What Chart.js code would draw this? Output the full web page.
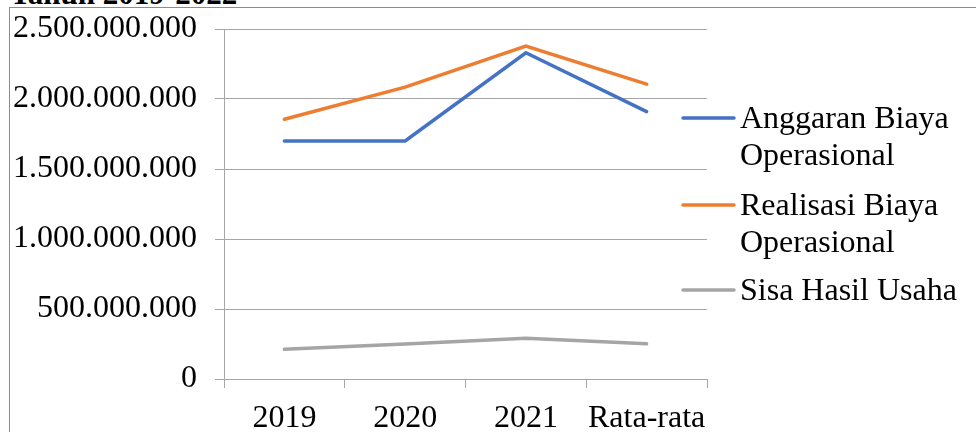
<!DOCTYPE html>
<html>
<head>
<meta charset="utf-8">
<script src="https://cdn.jsdelivr.net/npm/chart.js@4.4.0/dist/chart.umd.min.js"></script>
<style>
	html, body { margin: 0; padding: 0; background: #fff; }
	#wrap { position: relative; width: 976px; height: 432px; overflow: hidden; }
	#title {
		position: absolute; left: 10px; top: -22px;
		font: bold 31px "Liberation Serif", "Times New Roman", serif;
		line-height: 31px; color: #000; white-space: nowrap;
	}
	#frame {
		position: absolute; left: 9px; top: 7px; right: -2px; bottom: -2px;
		border-top: 1px solid #8c8c8c; border-left: 1px solid #8c8c8c;
	}
	#costChart { position: absolute; left: 0; top: 0; }
</style>
</head>
<body>
<div id="wrap">
	<div id="title">Tahun 2019-2022</div>
	<div id="frame"></div>
	<canvas id="costChart" width="976" height="432"></canvas>
</div>
<script>
const categories = ['2019', '2020', '2021', 'Rata-rata'];
const anggaran = [1700000000, 1700000000, 2330000000, 1910000000];
const realisasi = [1855000000, 2085000000, 2378000000, 2106000000];
const shu = [212000000, 250000000, 291000000, 251000000];
const seriesNames = [['Anggaran Biaya', 'Operasional'], ['Realisasi Biaya', 'Operasional'], ['Sisa Hasil Usaha']];
const seriesColors = ['#4472C4', '#ED7D31', '#A5A5A5'];

const FONT = '"Liberation Serif", "Times New Roman", serif';
const FONT_SIZE = 32;
const LINE_WIDTH = 3.5;

function formatRupiah(v) {
	return String(Math.round(v)).replace(/\B(?=(\d{3})+(?!\d))/g, '.');
}

// legend on the right, with wrapped labels
const sideLegend = {
	id: 'sideLegend',
	afterDraw(chart) {
		const ctx = chart.ctx;
		const rows = [118, 205, 290];
		ctx.save();
		ctx.font = FONT_SIZE + 'px ' + FONT;
		ctx.textBaseline = 'middle';
		ctx.textAlign = 'left';
		chart.data.datasets.forEach((ds, i) => {
			const y = rows[i];
			ctx.strokeStyle = ds.borderColor;
			ctx.lineWidth = LINE_WIDTH;
			ctx.lineCap = 'round';
			ctx.beginPath();
			ctx.moveTo(683, y);
			ctx.lineTo(734, y);
			ctx.stroke();
			ctx.fillStyle = '#000';
			seriesNames[i].forEach((line, j) => {
				ctx.fillText(line, 740, y + 2 + j * 37);
			});
		});
		ctx.restore();
	}
};

const datasets = [anggaran, realisasi, shu].map((data, i) => ({
	label: seriesNames[i].join(' '),
	data: data,
	borderColor: seriesColors[i],
	backgroundColor: seriesColors[i],
	borderWidth: LINE_WIDTH,
	pointRadius: 0,
	tension: 0,
	borderCapStyle: 'round'
}));

new Chart(document.getElementById('costChart'), {
	type: 'line',
	data: { labels: categories, datasets: datasets },
	plugins: [sideLegend],
	options: {
		responsive: false,
		animation: false,
		layout: {
			autoPadding: false,
			padding: { top: 29, right: 269, left: 0, bottom: 0 }
		},
		plugins: {
			legend: { display: false },
			tooltip: { enabled: false }
		},
		scales: {
			x: {
				offset: true,
				afterFit: (scale) => {
					scale.height = 53;
					scale.paddingLeft = 0;
					scale.paddingRight = 0;
				},
				grid: {
					offset: true,
					drawOnChartArea: false,
					drawTicks: true,
					tickLength: 9,
					color: '#a6a6a6'
				},
				border: { color: '#a6a6a6' },
				ticks: {
					padding: 11,
					autoSkip: false,
					maxRotation: 0,
					minRotation: 0,
					color: '#000',
					font: { family: FONT, size: FONT_SIZE }
				}
			},
			y: {
				min: 0,
				max: 2500000000,
				afterFit: (scale) => {
					scale.width = 224;
					scale.paddingTop = 0;
					scale.paddingBottom = 0;
				},
				grid: {
					color: '#a6a6a6',
					tickLength: 9
				},
				border: { color: '#a6a6a6' },
				ticks: {
					stepSize: 500000000,
					padding: 18,
					color: '#000',
					font: { family: FONT, size: FONT_SIZE },
					callback: (v) => formatRupiah(v)
				}
			}
		}
	}
});
</script>
</body>
</html>
